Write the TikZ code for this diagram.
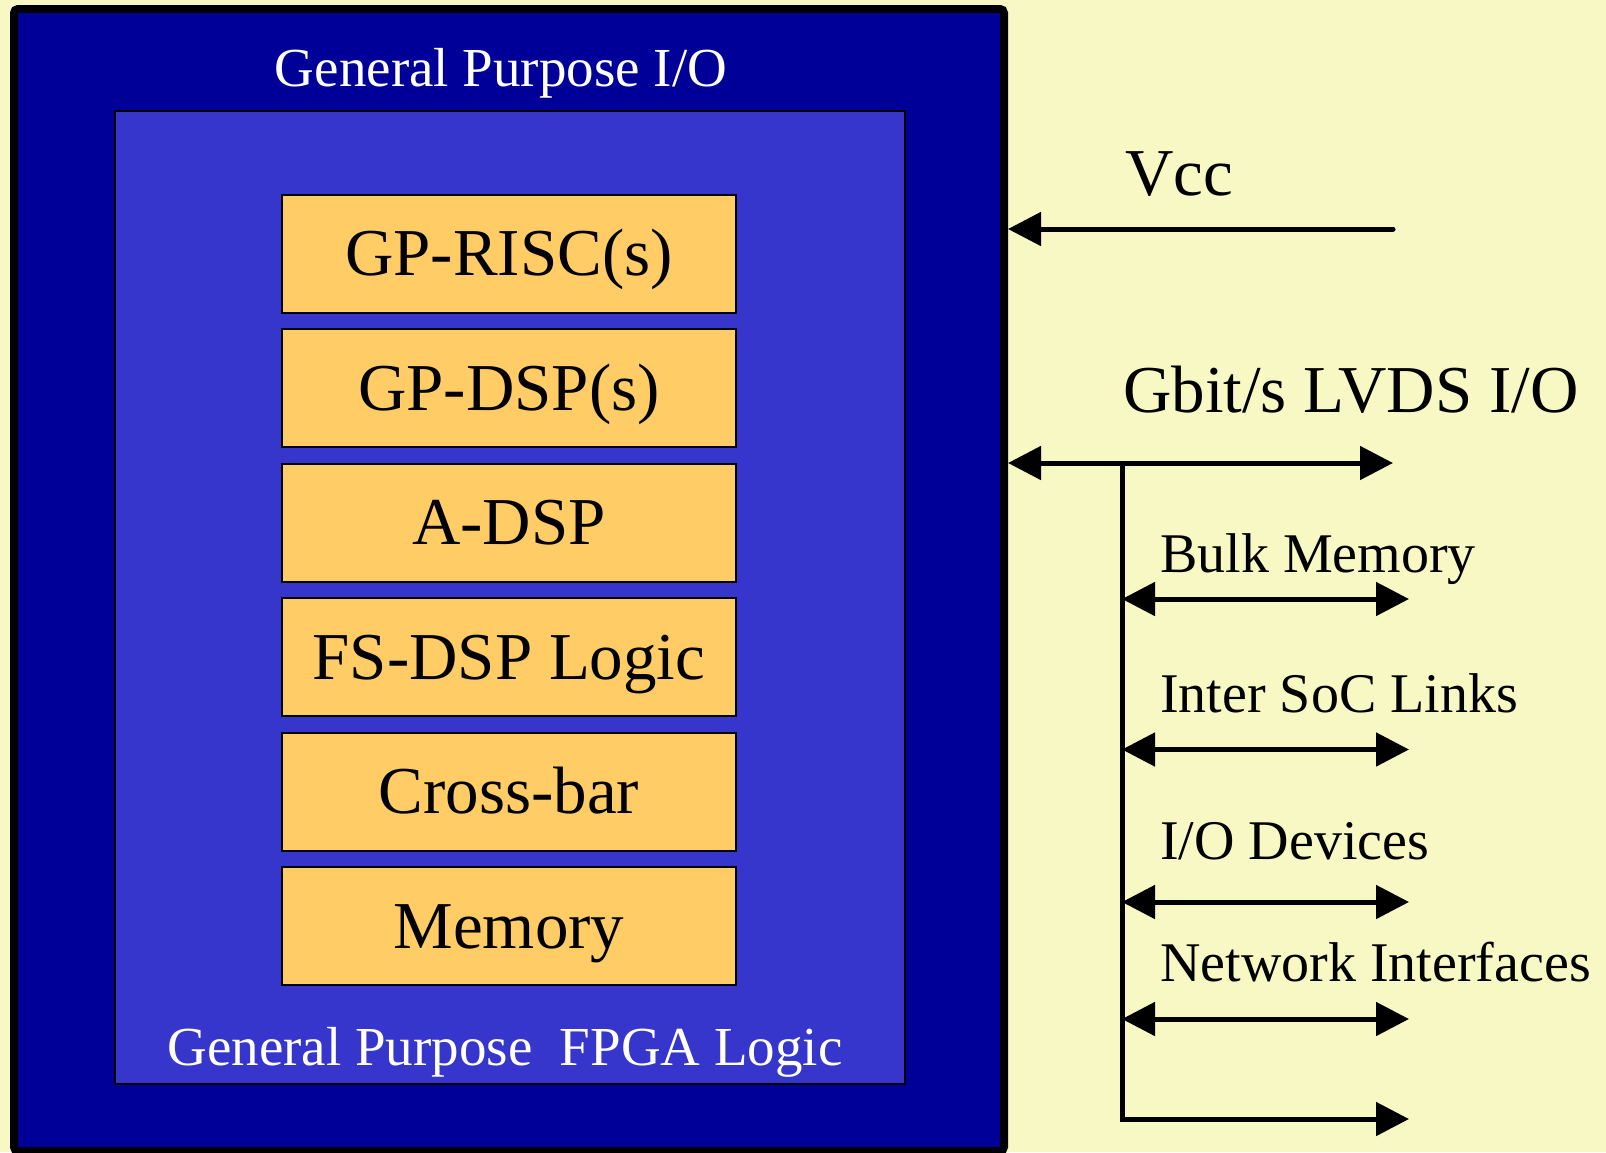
\documentclass[tikz,border=0pt]{standalone}
\usepackage{fontspec}
\setmainfont{Liberation Serif}
\usetikzlibrary{arrows.meta}

\definecolor{paper}{RGB}{248,248,196}
\definecolor{chipblue}{RGB}{0,0,153}
\definecolor{fabricblue}{RGB}{54,54,204}
\definecolor{unitorange}{RGB}{255,204,102}

\tikzset{
  unit/.style={draw=black, line width=2pt, fill=unitorange,
    minimum width=454pt, minimum height=118pt, inner sep=0pt,
    text height=44pt, text depth=0pt,
    font=\fontsize{67}{70}\selectfont},
  biglabel/.style={anchor=base west, inner sep=0pt, font=\fontsize{67}{70}\selectfont},
  smalllabel/.style={anchor=base west, inner sep=0pt, font=\fontsize{56}{60}\selectfont},
  whitelabel/.style={anchor=base, inner sep=0pt, text=white, font=\fontsize{55}{60}\selectfont},
  link/.style={line width=5pt, -{Triangle[length=33pt,width=33pt]}},
  duplex/.style={line width=5pt, {Triangle[length=33pt,width=33pt]}-{Triangle[length=33pt,width=33pt]}},
}

\begin{document}
\begin{tikzpicture}[x=1pt, y=-1pt]
  % page and background
  \useasboundingbox (0,0) rectangle (1606,1152);
  \fill[paper] (0,0) rectangle (1606,1152);

  % the chip and its programmable fabric
  \node[draw=black, line width=8pt, fill=chipblue, rounded corners=4pt,
        minimum width=990pt, minimum height=1142pt, inner sep=0pt]
        (chip) at (509,580) {};
  \node[draw=black, line width=2pt, fill=fabricblue,
        minimum width=790pt, minimum height=973pt, inner sep=0pt]
        (fabric) at (510,597.5) {};

  \node[whitelabel] (gpio) at (501,86) {General Purpose I/O};
  \node[whitelabel] (fpga) at (505,1065) {General Purpose\ \ FPGA Logic};

  % processing units
  \node[unit] (risc)  at (509,253.5) {GP-RISC(s)};
  \node[unit] (gpdsp) at (509,388)   {GP-DSP(s)};
  \node[unit] (adsp)  at (509,522.5) {A-DSP};
  \node[unit] (fsdsp) at (509,657)   {FS-DSP Logic};
  \node[unit] (xbar)  at (509,791.5) {Cross-bar};
  \node[unit] (mem)   at (509,926)   {Memory};

  % external interfaces
  \node[biglabel] (vcclbl)  at (1125,195) {Vcc};
  \node[biglabel] (lvdslbl) at (1123,412) {Gbit/s LVDS I/O};
  \node[smalllabel] (bulklbl) at (1160,572)   {Bulk Memory};
  \node[smalllabel] (soclbl)  at (1160,712)   {Inter SoC Links};
  \node[smalllabel] (iolbl)   at (1160,859.5) {I/O Devices};
  \node[smalllabel] (netlbl)  at (1160,981)   {Network Interfaces};

  \coordinate (vccsrc)  at (1393,229);
  \coordinate (lvdsend) at (1393,463);
  \coordinate (bustop)  at (1122,463);
  \coordinate (busbot)  at (1122,1119);
  \coordinate (bulkend) at (1409,599);
  \coordinate (socend)  at (1409,749.5);
  \coordinate (ioend)   at (1409,902);
  \coordinate (netend)  at (1409,1019);
  \coordinate (lastend) at (1409,1119);

  % power and high-speed links
  \draw[link, line cap=round] (vccsrc) -- (chip.east |- vccsrc);
  \draw[duplex] (chip.east |- lvdsend) -- (lvdsend);
  \draw[link] (bustop) -- (busbot) -- (lastend);
  \draw[duplex] (bustop |- bulkend) -- (bulkend);
  \draw[duplex] (bustop |- socend) -- (socend);
  \draw[duplex] (bustop |- ioend) -- (ioend);
  \draw[duplex] (bustop |- netend) -- (netend);
\end{tikzpicture}
\end{document}
